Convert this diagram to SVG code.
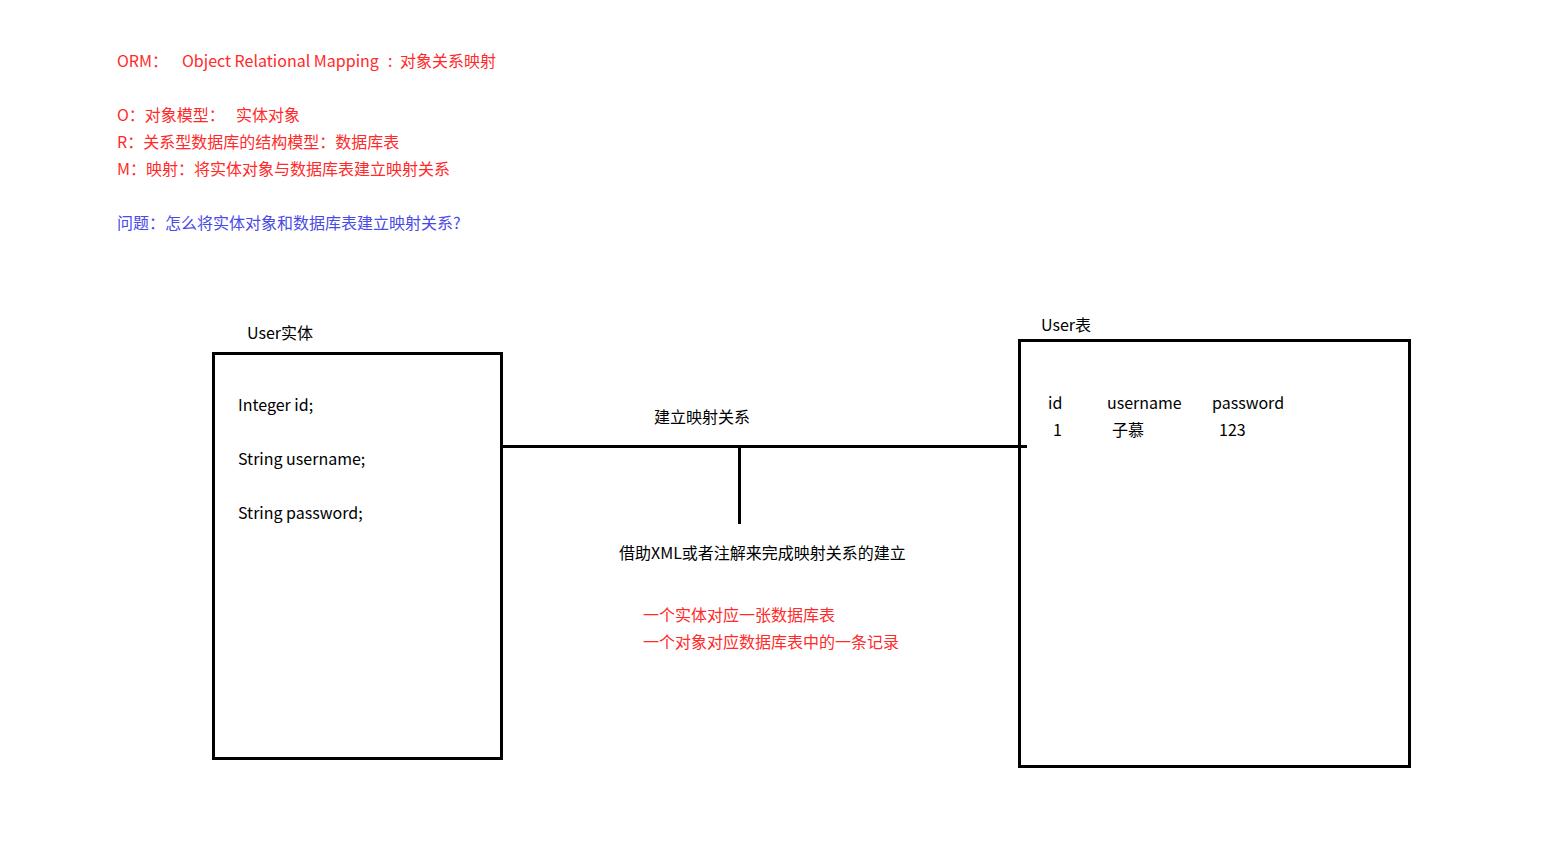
<svg xmlns="http://www.w3.org/2000/svg" width="1558" height="865" viewBox="0 0 1558 865">
<style>
text{font-family:"Noto Sans CJK SC","Noto Sans",sans-serif;font-size:16px;fill:#000}
.r{fill:#ff2a2a}
.b{fill:#4a4ae6}
.box{fill:none;stroke:#000;stroke-width:3}
.ln{stroke:#000;stroke-width:3;fill:none}
</style>
<rect width="1558" height="865" fill="#fff"/>
<g id="notes">
<text class="r" x="117" y="67">ORM：<tspan x="182">Object Relational Mapping</tspan><tspan x="388">:</tspan><tspan x="400">对象关系映射</tspan></text>
<text class="r" x="117" y="121">O：对象模型：<tspan x="236">实体对象</tspan></text>
<text class="r" x="117" y="148">R：关系型数据库的结构模型：数据库表</text>
<text class="r" x="117" y="175">M：映射：将实体对象与数据库表建立映射关系</text>
<text class="b" x="117" y="229">问题：怎么将实体对象和数据库表建立映射关系?</text>
</g>
<g id="entity">
<text x="247" y="339">User实体</text>
<rect class="box" x="213.5" y="353.5" width="288" height="405"/>
<text x="238" y="411">Integer id;</text>
<text x="238" y="465">String username;</text>
<text x="238" y="519">String password;</text>
</g>
<g id="table">
<text x="1041" y="331">User表</text>
<rect class="box" x="1019.5" y="340.5" width="390" height="426"/>
<text x="1048" y="409">id</text>
<text x="1107" y="409">username</text>
<text x="1212" y="409">password</text>
<text x="1053" y="436">1</text>
<text x="1112" y="436">子慕</text>
<text x="1219" y="436">123</text>
</g>
<g id="connectors">
<line class="ln" x1="502" y1="446.5" x2="1027" y2="446.5"/>
<line class="ln" x1="739.5" y1="446" x2="739.5" y2="524"/>
</g>
<g id="labels">
<text x="654" y="423">建立映射关系</text>
<text x="619" y="559">借助XML或者注解来完成映射关系的建立</text>
<text class="r" x="643" y="621">一个实体对应一张数据库表</text>
<text class="r" x="643" y="648">一个对象对应数据库表中的一条记录</text>
</g>
</svg>
